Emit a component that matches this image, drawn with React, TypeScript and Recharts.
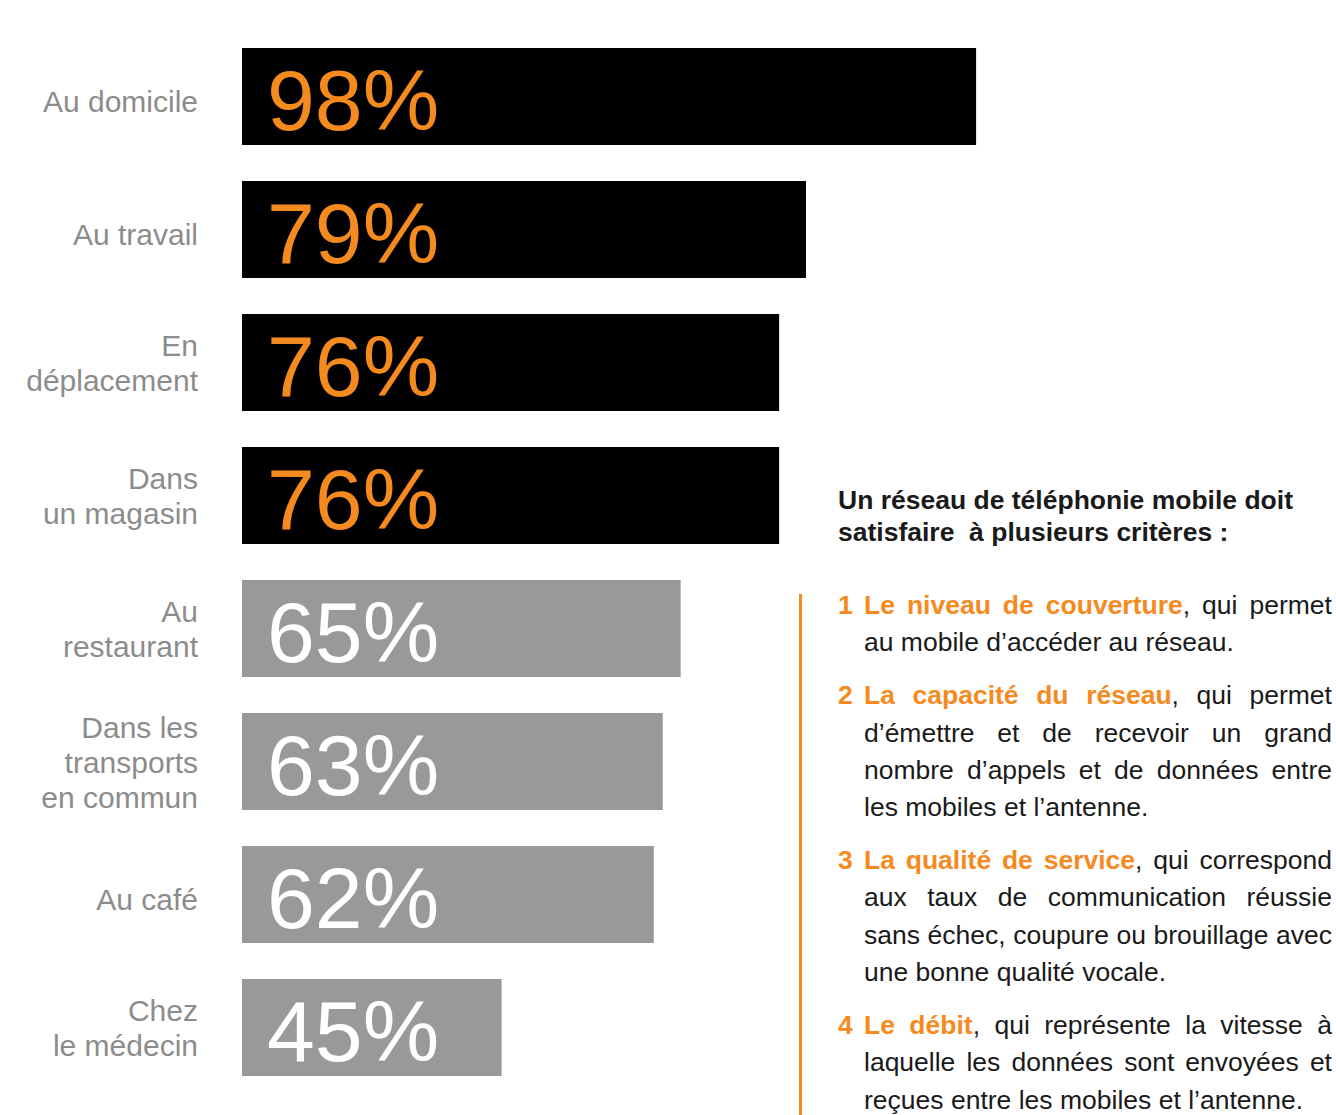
import React from "react";
import { BarChart, Bar, XAxis, YAxis, Cell, LabelList } from "recharts";

const categories = [
  "Au domicile",
  "Au travail",
  "En\ndéplacement",
  "Dans\nun magasin",
  "Au\nrestaurant",
  "Dans les\ntransports\nen commun",
  "Au café",
  "Chez\nle médecin",
];
const shares = [98, 79, 76, 76, 65, 63, 62, 45];
const highlighted = 4; // first bars drawn in black

const title = ["Un réseau de téléphonie mobile doit", "satisfaire  à plusieurs critères :"];
const criteria = [
  ["*Le niveau de couverture*, qui permet", "au mobile d’accéder au réseau."],
  [
    "*La capacité du réseau*, qui permet",
    "d’émettre et de recevoir un grand",
    "nombre d’appels et de données entre",
    "les mobiles et l’antenne.",
  ],
  [
    "*La qualité de service*, qui correspond",
    "aux taux de communication réussie",
    "sans échec, coupure ou brouillage avec",
    "une bonne qualité vocale.",
  ],
  [
    "*Le débit*, qui représente la vitesse à",
    "laquelle les données sont envoyées et",
    "reçues entre les mobiles et l’antenne.",
  ],
];

const ORANGE = "#f58a1f";
const FONT = "'Liberation Sans', Arial, Helvetica, sans-serif";

const data = categories.map((name, i) => ({ name, value: shares[i] }));

function CategoryTick(props: any) {
  const { y, payload } = props;
  const lines = String(payload.value).split("\n");
  const n = lines.length;
  return (
    <text textAnchor="end" fill="#8c8c8c" fontSize={30} fontFamily={FONT}>
      {lines.map((l, i) => (
        <tspan key={i} x={198} y={y + (n === 1 ? 15 : 11) + (i - (n - 1) / 2) * 35}>
          {l}
        </tspan>
      ))}
    </text>
  );
}

function ValueLabel(props: any) {
  const { x, y, height, value, index } = props;
  return (
    <text
      x={x + 25}
      y={y + height / 2 + 33}
      fontSize={86}
      fontFamily={FONT}
      fill={index < highlighted ? ORANGE : "#ffffff"}
    >
      {value}%
    </text>
  );
}

// split "*orange words*, rest" into words made of coloured pieces
function parseWords(text: string) {
  const words: { s: string; o: boolean }[][] = [];
  let orange = false;
  for (const raw of text.split(" ")) {
    const parts: { s: string; o: boolean }[] = [];
    let cur = "";
    for (const ch of raw) {
      if (ch === "*") {
        if (cur) parts.push({ s: cur, o: orange });
        cur = "";
        orange = !orange;
      } else cur += ch;
    }
    if (cur) parts.push({ s: cur, o: orange });
    words.push(parts);
  }
  return words;
}

function Pieces({ parts }: { parts: { s: string; o: boolean }[] }) {
  return (
    <>
      {parts.map((p, k) =>
        p.o ? (
          <span key={k} style={{ color: ORANGE, fontWeight: 700 }}>
            {p.s}
          </span>
        ) : (
          <span key={k}>{p.s}</span>
        )
      )}
    </>
  );
}

function TextLine({ text, justify }: { text: string; justify: boolean }) {
  const words = parseWords(text);
  if (justify) {
    return (
      <div style={{ display: "flex", justifyContent: "space-between", whiteSpace: "nowrap", height: 37.3 }}>
        {words.map((w, i) => (
          <span key={i}>
            <Pieces parts={w} />
          </span>
        ))}
      </div>
    );
  }
  return (
    <div style={{ whiteSpace: "nowrap", height: 37.3 }}>
      {words.map((w, i) => (
        <React.Fragment key={i}>
          {i > 0 ? " " : ""}
          <Pieces parts={w} />
        </React.Fragment>
      ))}
    </div>
  );
}

export default function App() {
  return (
    <div style={{ position: "absolute", left: 0, top: 0, width: 1336, height: 1115, background: "#fff", fontFamily: FONT }}>
      <BarChart
        width={1336}
        height={1115}
        data={data}
        layout="vertical"
        margin={{ top: 30, right: 342, bottom: 21, left: 0 }}
      >
        <XAxis type="number" domain={[16, 100]} hide allowDataOverflow />
        <YAxis
          type="category"
          dataKey="name"
          width={242}
          axisLine={false}
          tickLine={false}
          interval={0}
          tick={<CategoryTick />}
        />
        <Bar dataKey="value" barSize={97} isAnimationActive={false}>
          {data.map((d, i) => (
            <Cell key={d.name} fill={i < highlighted ? "#000000" : "#999999"} />
          ))}
          <LabelList dataKey="value" content={<ValueLabel />} />
        </Bar>
      </BarChart>

      <div
        style={{
          position: "absolute",
          left: 838,
          top: 484,
          fontSize: 26.5,
          lineHeight: "32px",
          fontWeight: 700,
          color: "#1a1a1a",
          whiteSpace: "pre",
        }}
      >
        {title.map((t, i) => (
          <div key={i}>{t}</div>
        ))}
      </div>

      <div style={{ position: "absolute", left: 799, top: 594, width: 3, height: 521, background: ORANGE }} />

      <div
        style={{
          position: "absolute",
          left: 838,
          top: 587,
          fontSize: 26.5,
          lineHeight: "37.3px",
          color: "#1a1a1a",
        }}
      >
        {criteria.map((lines, i) => (
          <div key={i} style={{ display: "flex", marginTop: i === 0 ? 0 : 15.7 }}>
            <div style={{ width: 26, color: ORANGE, fontWeight: 700 }}>{i + 1}</div>
            <div style={{ width: 468 }}>
              {lines.map((l, j) => (
                <TextLine key={j} text={l} justify={j < lines.length - 1} />
              ))}
            </div>
          </div>
        ))}
      </div>
    </div>
  );
}
